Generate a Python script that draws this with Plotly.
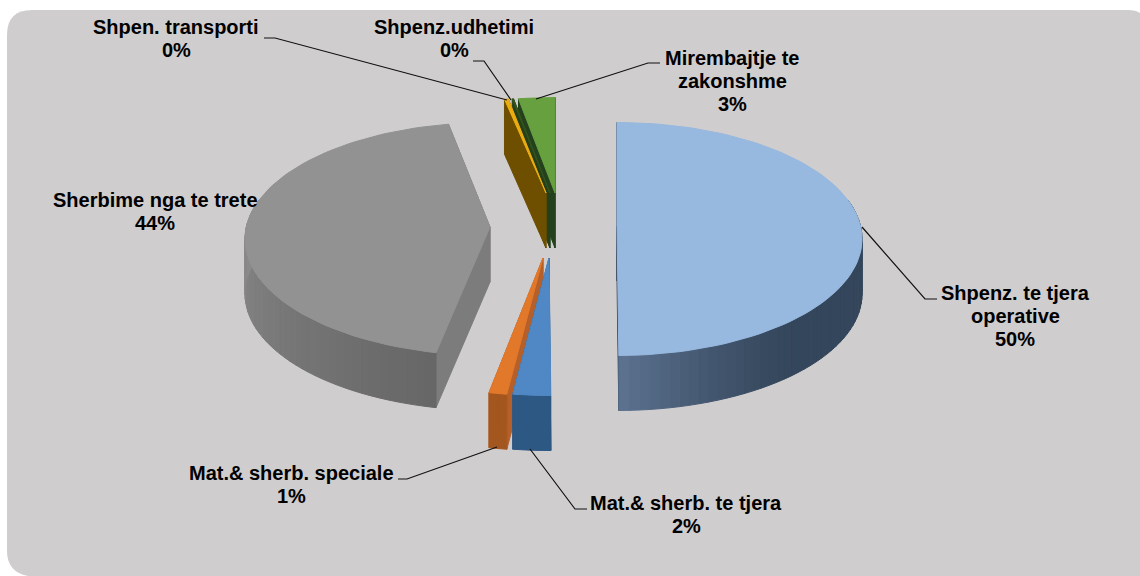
import math
import plotly.graph_objects as go

# ---- data ----
categories = ["Shpenz. te tjera operative", "Mat.& sherb. te tjera", "Mat.& sherb. speciale",
              "Sherbime nga te trete", "Shpen. transporti", "Shpenz.udhetimi", "Mirembajtje te zakonshme"]
values = [49.9, 2.1, 1.0, 43.7, 0.3, 0.1, 2.9]
percent_labels = ["50%", "2%", "1%", "44%", "0%", "0%", "3%"]

# ---- style: one entry per slice ----
top_colors = ["#97b8df", "#4f88c4", "#e2782a", "#929292", "#eaae12", "#33541f", "#66a03f"]
edge_colors = ["#33465e", "#2f5a86", "#b5602a", "#7c7c7c", "#6e4f00", "#24401a", "#25401c"]
wall_from = ["#34465b", "#2e5884", "#a3561e", "#666666", "#6e4f00", "#24401a", "#2a4a20"]
wall_to = ["#5d7391", "#2c5680", "#9c5520", "#8a8a8a", "#6e4f00", "#24401a", "#2a4a20"]
rim_x = [617, 549, 543, 490, 546, 550, 555]
rim_y = [239, 279, 279, 239, 214, 214, 214]
apex_y = [226, 258, 258, 227, 193, 193, 193]

RX, RY, PERSP, DEPTH = 245, 116.5, 0.18, 55
draw_order = [6, 5, 4, 3, 0, 2, 1]
label_x = [1015, 686, 291.5, 155, 176, 454, 732]
label_y = [316, 514, 484.5, 211, 38.5, 38.5, 81]
label_breaks = [["Shpenz. te tjera", "operative"], ["Mat.& sherb. te tjera"], ["Mat.& sherb. speciale"],
                ["Sherbime nga te trete"], ["Shpen. transporti"], ["Shpenz.udhetimi"],
                ["Mirembajtje te", "zakonshme"]]
leaders = [
    [(862, 227), (925, 299), (937, 299)],
    [(530, 449), (575, 509), (587, 509)],
    [(497, 447), (407, 479), (398, 479)],
    [(507, 100), (275, 38), (264, 38)],
    [(511, 100), (484, 61), (473, 61)],
    [(536, 99), (648, 63), (660, 63)],
]


def rim(i, deg, drop=0.0):
    t = math.radians(deg)
    phi = t - PERSP * math.sin(t)
    return (rim_x[i] + RX * math.sin(phi), rim_y[i] - RY * math.cos(phi) + drop)


def mix(a, b, f):
    ca = [int(a[k:k + 2], 16) for k in (1, 3, 5)]
    cb = [int(b[k:k + 2], 16) for k in (1, 3, 5)]
    return "rgb(%d,%d,%d)" % tuple(round(p + (q - p) * f) for p, q in zip(ca, cb))


def poly(pts, color, name):
    xs = [p[0] for p in pts] + [pts[0][0]]
    ys = [p[1] for p in pts] + [pts[0][1]]
    return go.Scatter(x=xs, y=ys, mode="lines", fill="toself", fillcolor=color,
                      line=dict(color=color, width=1), name=name,
                      hoverinfo="skip", showlegend=False)


# slice angles follow the values cumulatively, clockwise from the top
total = sum(values)
starts, ends, acc = [], [], 0.0
for v in values:
    starts.append(acc)
    acc += v / total * 360
    ends.append(acc)

traces = []
for i in draw_order:
    a, b = starts[i], ends[i]
    apex = (rim_x[i], apex_y[i])
    low = (rim_x[i], apex_y[i] + DEPTH)
    for deg in (b, a):
        r1, r2 = rim(i, deg), rim(i, deg, DEPTH)
        traces.append(poly([apex, r1, r2, low], edge_colors[i], categories[i]))
    # outer wall, in shaded bands
    n = max(2, int((b - a) / 2))
    for k in range(n):
        d1 = a + (b - a) * k / n
        d2 = a + (b - a) * (k + 1) / n
        mid = (d1 + d2) / 2
        if mid < 80 or mid > 280:
            continue
        if i == 0:
            f = max(0.0, 1 - abs(mid - 180) / 40) ** 1.5
        else:
            f = max(0.0, min(1.0, abs(mid - 190) / 80))
        traces.append(poly([rim(i, d1), rim(i, d2), rim(i, d2, DEPTH), rim(i, d1, DEPTH)],
                           mix(wall_from[i], wall_to[i], f), categories[i]))
    steps = max(3, int((b - a) / 2))
    arc = [rim(i, a + (b - a) * k / steps) for k in range(steps + 1)]
    traces.append(poly([apex] + arc, top_colors[i], categories[i]))

for path in leaders:
    traces.append(go.Scatter(x=[p[0] for p in path], y=[p[1] for p in path], mode="lines",
                             line=dict(color="#111111", width=1.2), hoverinfo="skip", showlegend=False))

fig = go.Figure(traces)

annotations = []
LINE = 23
for i in range(len(categories)):
    lines = label_breaks[i] + [percent_labels[i]]
    for j, line in enumerate(lines):
        annotations.append(dict(x=label_x[i], y=label_y[i] + (j - (len(lines) - 1) / 2) * LINE,
                                xref="x", yref="y", text="<b>" + line + "</b>",
                                showarrow=False, xanchor="center", yanchor="middle",
                                font=dict(family="Liberation Sans, Arial, sans-serif", size=20, color="#000000")))

fig.update_layout(
    width=1140, height=576, autosize=False,
    margin=dict(l=0, r=0, t=0, b=0),
    paper_bgcolor="#ffffff", plot_bgcolor="rgba(0,0,0,0)",
    showlegend=False,
    xaxis=dict(range=[0, 1140], visible=False, fixedrange=True),
    yaxis=dict(range=[576, 0], visible=False, fixedrange=True),
    annotations=annotations,
    shapes=[dict(type="path", xref="x", yref="y", layer="below", line=dict(width=0),
                 fillcolor="#d0cdce",
                 path="M 7 35 Q 7 10 32 10 L 1128 10 Q 1136 10 1140 13 L 1140 576 L 28 576 Q 7 572 7 551 Z")],
)
fig.write_html("out.html", config={"displayModeBar": False},
               post_script="document.body.style.margin='0';document.documentElement.style.overflow='hidden';")
